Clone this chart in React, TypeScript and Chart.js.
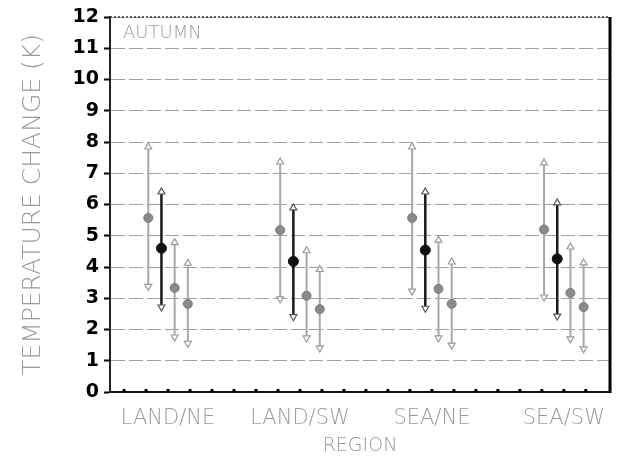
import React, { useEffect, useRef } from "react";
import { Chart, registerables } from "chart.js";

Chart.register(...registerables);

const categories = ["LAND/NE", "LAND/SW", "SEA/NE", "SEA/SW"];
const yTicks = [0, 1, 2, 3, 4, 5, 6, 7, 8, 9, 10, 11, 12];

const s1Mean = [5.57, 5.18, 5.57, 5.2];
const s1Low = [3.38, 2.98, 3.23, 3.04];
const s1High = [7.84, 7.36, 7.84, 7.33];

const s2Mean = [4.6, 4.18, 4.54, 4.26];
const s2Low = [2.72, 2.41, 2.68, 2.43];
const s2High = [6.4, 5.89, 6.4, 6.05];

const s3Mean = [3.33, 3.08, 3.3, 3.17];
const s3Low = [1.76, 1.73, 1.73, 1.7];
const s3High = [4.78, 4.52, 4.86, 4.64];

const s4Mean = [2.82, 2.65, 2.82, 2.72];
const s4Low = [1.56, 1.41, 1.5, 1.38];
const s4High = [4.12, 3.92, 4.16, 4.13];

const LIGHT = "#a8a8a8";
const DARK = "#1a1a1a";
const FONT = "'DejaVu Sans', sans-serif";

function barData(low: number[], high: number[], off: number) {
  const out: any[] = [];
  low.forEach((lo, i) => {
    const x = i + 1 + off;
    out.push({ x, y: high[i] });
    out.push({ x, y: lo });
    out.push({ x, y: null });
  });
  return out;
}

function meanData(mean: number[], off: number) {
  return mean.map((m, i) => ({ x: i + 1 + off, y: m }));
}

export default function App() {
  const ref = useRef<HTMLCanvasElement | null>(null);

  useEffect(() => {
    if (!ref.current) return;
    const series = [
      { mean: s1Mean, low: s1Low, high: s1High, dark: false },
      { mean: s2Mean, low: s2Low, high: s2High, dark: true },
      { mean: s3Mean, low: s3Low, high: s3High, dark: false },
      { mean: s4Mean, low: s4Low, high: s4High, dark: false },
    ];
    const step = 0.1;
    const datasets: any[] = [];
    series.forEach((s, k) => {
      const off = (k - 1.5) * step;
      const col = s.dark ? DARK : LIGHT;
      datasets.push({
        type: "line",
        data: barData(s.low, s.high, off),
        borderColor: col,
        borderWidth: s.dark ? 2.5 : 2,
        spanGaps: false,
        pointStyle: "triangle",
        pointRadius: 4,
        pointBackgroundColor: "#ffffff",
        pointBorderColor: s.dark ? "#555" : "#999",
        pointBorderWidth: 1.2,
        pointRotation: (c: any) => (c.dataIndex % 3 === 0 ? 0 : 180),
        order: s.dark ? 1 : 2,
      });
      datasets.push({
        type: "line",
        data: meanData(s.mean, off),
        showLine: false,
        pointStyle: "circle",
        pointRadius: s.dark ? 5 : 4.5,
        pointBackgroundColor: s.dark ? "#111" : "#8a8a8a",
        pointBorderColor: s.dark ? "#111" : "#777",
        pointBorderWidth: 1,
        order: 0,
      });
    });

    const framePlugin = {
      id: "frame",
      afterDraw(chart: any) {
        const { ctx, chartArea } = chart;
        const xs = chart.scales.x;
        ctx.save();
        ctx.strokeStyle = "#333";
        ctx.lineWidth = 1.5;
        ctx.setLineDash([2, 2]);
        ctx.beginPath();
        ctx.moveTo(chartArea.left, chartArea.top);
        ctx.lineTo(chartArea.right, chartArea.top);
        ctx.stroke();
        ctx.setLineDash([]);
        ctx.strokeStyle = "#000";
        ctx.lineWidth = 3;
        ctx.beginPath();
        ctx.moveTo(chartArea.right, chartArea.top);
        ctx.lineTo(chartArea.right, chartArea.bottom + 1);
        ctx.stroke();
        // minor tick marks along the bottom axis
        ctx.fillStyle = "#000";
        for (let v = 4 / 6; v < xs.max; v += 1 / 6) {
          const px = xs.getPixelForValue(v);
          if (px > chartArea.left + 4 && px < chartArea.right - 4) {
            ctx.fillRect(px - 1.5, chartArea.bottom - 3, 3, 3);
          }
        }
        ctx.fillStyle = "#999";
        ctx.font = `200 18px ${FONT}`;
        ctx.textBaseline = "middle";
        ctx.textAlign = "left";
        ctx.fillText("AUTUMN", chartArea.left + 13, chartArea.top + 16);
        ctx.restore();
      },
    };

    const chart = new Chart(ref.current, {
      type: "line",
      data: { datasets },
      plugins: [framePlugin],
      options: {
        animation: false,
        responsive: false,
        maintainAspectRatio: false,
        layout: { padding: { top: 17, right: 9, left: 0, bottom: 0 } },
        plugins: { legend: { display: false }, tooltip: { enabled: false } },
        scales: {
          x: {
            type: "linear",
            min: 0.56,
            max: 4.35,
            afterBuildTicks: (scale: any) => {
              scale.ticks = categories.map((_, i) => ({ value: i + 1 }));
            },
            afterFit: (scale: any) => {
              scale.height = 64;
              scale.paddingLeft = 0;
              scale.paddingRight = 0;
            },
            ticks: {
              autoSkip: false,
              maxRotation: 0,
              padding: 14,
              color: "#999",
              font: { family: FONT, size: 21, weight: "200" as any },
              callback: (v: any) => categories[Math.round(Number(v)) - 1] ?? "",
            },
            grid: { display: true, drawOnChartArea: false, drawTicks: false },
            border: { display: true, color: "#111", width: 2 },
            title: {
              display: true,
              text: "REGION",
              color: "#999",
              font: { family: FONT, size: 19, weight: "200" as any, lineHeight: 1 },
              padding: { top: 0, bottom: 0 },
            },
          },
          y: {
            type: "linear",
            min: 0,
            max: 12,
            afterBuildTicks: (scale: any) => {
              scale.ticks = yTicks.map((v) => ({ value: v }));
            },
            afterFit: (scale: any) => {
              scale.width = 110;
              scale.paddingTop = 0;
              scale.paddingBottom = 0;
            },
            ticks: {
              padding: 5,
              color: "#000",
              font: { family: FONT, size: 19, weight: "bold" },
            },
            grid: {
              color: "#a0a0a0",
              lineWidth: 1,
              tickLength: 6,
              tickColor: "#000",
              tickWidth: 2,
              tickBorderDash: [],
            } as any,
            border: { display: true, color: "#222", width: 2, dash: [14, 4] } as any,
            title: {
              display: true,
              text: "TEMPERATURE CHANGE (K)",
              color: "#999",
              font: { family: FONT, size: 25, weight: "200" as any, lineHeight: 1.2 },
              padding: { top: 18, bottom: 0 },
            },
          },
        },
      } as any,
    });
    return () => chart.destroy();
  }, []);

  return (
    <div style={{ position: "fixed", left: 0, top: 0, width: 619, height: 456, background: "#fff" }}>
      <canvas ref={ref} width={619} height={456} style={{ width: 619, height: 456 }} />
    </div>
  );
}
